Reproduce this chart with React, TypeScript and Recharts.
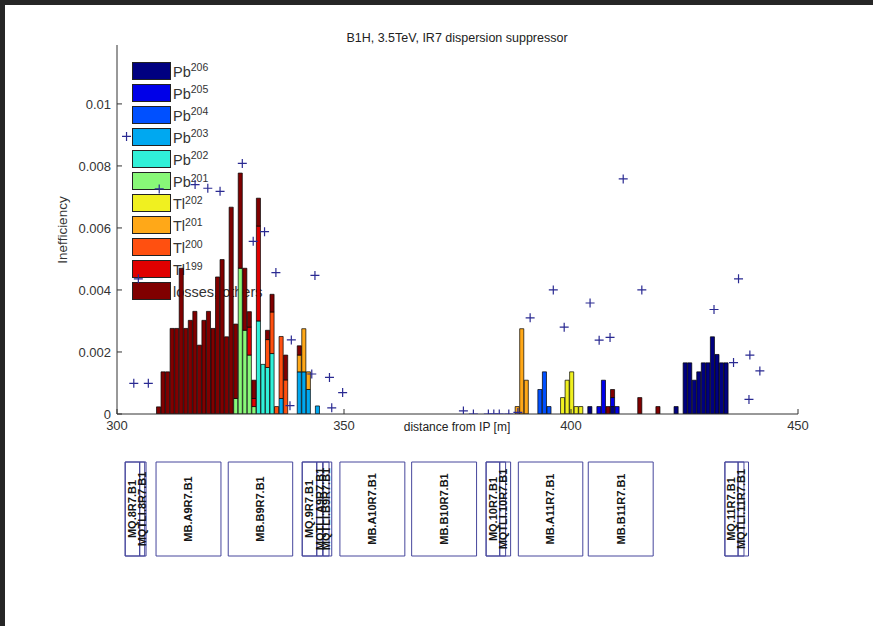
import React from 'react';
import { ComposedChart, Bar, Scatter, XAxis, YAxis, ReferenceArea } from 'recharts';

const FONT = "'Liberation Sans', Arial, Helvetica, sans-serif";

type Pair = [number, number];

// Loss components per 1 m bin: [bin centre in m, inefficiency]
const pb206: Pair[] = [[404.2, 0.00024], [409.2, 0.00024], [423.2, 0.00024], [425.2, 0.00165], [426.2, 0.00165], [427.2, 0.00109], [428.2, 0.00136], [429.2, 0.00165], [430.2, 0.00165], [431.2, 0.00249], [432.2, 0.00192], [433.2, 0.00165], [434.2, 0.00165]];
const pb205: Pair[] = [[406.2, 0.00024], [407.2, 0.00109], [409.2, 0.00029], [410.2, 0.00024]];
const pb204: Pair[] = [[393.2, 0.00079], [394.2, 0.00136], [395.2, 0.00024]];
const pb203: Pair[] = [[336.2, 0.0005], [340.2, 0.00136], [341.2, 0.00136], [342.2, 0.00079], [344.2, 0.00026]];
const pb202: Pair[] = [[331.2, 0.003], [332.2, 0.0016], [333.2, 0.0015], [334.2, 0.00195]];
const pb201: Pair[] = [[326.2, 0.0005], [327.2, 0.0047], [328.2, 0.0027], [329.2, 0.0019], [330.2, 0.00024]];
const tl202: Pair[] = [[398.2, 0.00053], [399.2, 0.00109], [400.2, 0.00136], [401.2, 0.00024], [402.2, 0.00024]];
const tl201: Pair[] = [[340.2, 0.00054], [341.2, 0.00139], [342.2, 0.00057], [388.2, 0.00024], [389.2, 0.00275], [390.2, 0.00109]];
const tl200: Pair[] = [[333.2, 0.0009], [334.2, 0.00134], [335.2, 0.00024], [336.2, 0.002], [337.2, 0.0011]];
const tl199: Pair[] = [[329.2, 0.0009], [330.2, 0.00026], [331.2, 0.00306]];
const others: Pair[] = [
  [309.2, 0.00023], [310.2, 0.00136], [311.2, 0.00136], [312.2, 0.00276], [313.2, 0.00276],
  [314.2, 0.0047], [315.2, 0.00276], [316.2, 0.00302], [317.2, 0.00331], [318.2, 0.00222],
  [319.2, 0.00302], [320.2, 0.00331], [321.2, 0.00276], [322.2, 0.00442], [323.2, 0.00498],
  [324.2, 0.00249], [325.2, 0.00667], [326.2, 0.0024], [327.2, 0.00307], [328.2, 0.002],
  [329.2, 0.0005], [330.2, 0.00059], [331.2, 0.0009], [333.2, 0.0003], [334.2, 0.00057],
  [337.2, 0.0008], [340.2, 0.0003], [408.2, 0.00024], [409.2, 0.00026], [415.2, 0.00053],
  [419.2, 0.00024],
];

// Simulated total inefficiency per element (markers)
const markerPos = [302.1, 303.7, 306.9, 304.7, 309.3, 317.2, 320.0, 322.7, 327.6, 330.0, 332.5, 335.0, 338.4, 338.1, 343.6, 342.9, 346.8, 349.7, 347.3, 376.3, 378.5, 381.8, 383.0, 384.2, 386.3, 388.3, 391.0, 396.1, 398.5, 404.2, 406.2, 408.6, 411.5, 415.6, 431.5, 436.9, 435.8, 439.4, 441.6, 439.2];
const markerVal = [0.00895, 0.00099, 0.00099, 0.00436, 0.00726, 0.0074, 0.00728, 0.00718, 0.00808, 0.00557, 0.00588, 0.00456, 0.00239, 0.00027, 0.00447, 0.00129, 0.00118, 0.00069, 0.0002, 0.0001, 0, 0, 0, 0, 0, 0.00005, 0.0031, 0.004, 0.0028, 0.00358, 0.00238, 0.00247, 0.00758, 0.004, 0.00337, 0.00436, 0.00166, 0.0019, 0.00139, 0.00047];

const xTicks = [300, 350, 400, 450];
const yTicks = [0, 0.002, 0.004, 0.006, 0.008, 0.01];
const xDomain: [number, number] = [300, 450];
const yDomain: [number, number] = [0, 0.0119];

// Machine layout
const cryoStart = [301.8, 340.8, 381.3, 433.9];
const cryoEnd = [306.4, 347.3, 386.7, 439.1];
const elementNames = ['MQ.8R7.B1', 'MQTLI.8R7.B1', 'MB.A9R7.B1', 'MB.B9R7.B1', 'MQ.9R7.B1', 'MQTLI.A9R7.B1', 'MQTLI.B9R7.B1', 'MB.A10R7.B1', 'MB.B10R7.B1', 'MQ.10R7.B1', 'MQTLI.10R7.B1', 'MB.A11R7.B1', 'MB.B11R7.B1', 'MQ.11R7.B1', 'MQTLI.11R7.B1'];
const elementStart = [301.8, 305.0, 308.6, 324.5, 340.8, 344.0, 345.4, 349.1, 364.9, 381.3, 384.3, 388.4, 403.8, 433.9, 436.8];
const elementEnd = [305.0, 306.1, 322.9, 338.7, 344.0, 345.3, 346.7, 363.4, 379.2, 384.3, 385.6, 402.6, 418.1, 436.8, 438.1];

const stackSeries = [
  { key: 'pb206', base: 'Pb', sup: '206', color: '#000080', values: pb206 },
  { key: 'pb205', base: 'Pb', sup: '205', color: '#0000e8', values: pb205 },
  { key: 'pb204', base: 'Pb', sup: '204', color: '#0050ff', values: pb204 },
  { key: 'pb203', base: 'Pb', sup: '203', color: '#00a8f0', values: pb203 },
  { key: 'pb202', base: 'Pb', sup: '202', color: '#30f0d8', values: pb202 },
  { key: 'pb201', base: 'Pb', sup: '201', color: '#88f878', values: pb201 },
  { key: 'tl202', base: 'Tl', sup: '202', color: '#f0f020', values: tl202 },
  { key: 'tl201', base: 'Tl', sup: '201', color: '#ffa818', values: tl201 },
  { key: 'tl200', base: 'Tl', sup: '200', color: '#ff5010', values: tl200 },
  { key: 'tl199', base: 'Tl', sup: '199', color: '#e00000', values: tl199 },
  { key: 'others', base: 'losses, others', sup: '', color: '#800000', values: others },
];

const binPositions = Array.from(
  new Set(stackSeries.flatMap((s) => s.values.map((v) => v[0])))
).sort((a, b) => a - b);

const barTable = binPositions.map((pos) => {
  const row: Record<string, number> = { pos };
  stackSeries.forEach((s) => {
    const hit = s.values.find((v) => v[0] === pos);
    row[s.key] = hit ? hit[1] : 0;
  });
  return row;
});

const markerTable = markerPos.map((pos, i) => ({ pos, value: markerVal[i] }));

const W = 873;
const PLOT_LEFT = 117;
const PLOT_RIGHT = 798;
const BAR_PX = (PLOT_RIGHT - PLOT_LEFT) / (xDomain[1] - xDomain[0]);

const PlusMarker = (props: any) => {
  const { cx, cy } = props;
  if (cx == null || cy == null) return null;
  const r = 4.5;
  return (
    <path
      d={`M${cx - r},${cy}H${cx + r}M${cx},${cy - r}V${cy + r}`}
      stroke="#2a2a92"
      strokeWidth={1.2}
      fill="none"
    />
  );
};

const axisColor = '#333';
const tickStyle = { fill: '#333', fontSize: 13, fontFamily: FONT };

export default function App() {
  return (
    <div style={{ position: 'absolute', left: 0, top: 0, width: W, height: 626, background: '#262626', overflow: 'hidden', fontFamily: FONT }}>
      <div style={{ position: 'absolute', left: 5, top: 5, right: 0, bottom: 0, background: '#ffffff' }} />

      {/* legend sits beneath the plotted bars */}
      {stackSeries.map((s, i) => {
        const top = 61.7 + i * 22.06;
        return (
          <React.Fragment key={s.key}>
            <div style={{ position: 'absolute', left: 132, top, width: 37, height: 16, background: s.color, border: '1px solid #222' }} />
            <div style={{ position: 'absolute', left: 173, top: top + 2, height: 17, lineHeight: '17px', fontSize: 14.5, color: '#333', whiteSpace: 'nowrap' }}>
              {s.base}
              {s.sup && <span style={{ position: 'relative', top: -5.5, fontSize: 10.5 }}>{s.sup}</span>}
            </div>
          </React.Fragment>
        );
      })}

      <div style={{ position: 'absolute', left: 0, top: 0 }}>
        <ComposedChart
          width={W}
          height={440}
          data={barTable}
          margin={{ top: 45, right: W - PLOT_RIGHT, bottom: 6, left: PLOT_LEFT - 60 }}
        >
          <XAxis
            dataKey="pos"
            type="number"
            domain={xDomain}
            ticks={xTicks}
            allowDataOverflow
            height={20}
            tickSize={-5}
            tickMargin={12}
            tick={tickStyle}
            stroke={axisColor}
          />
          <XAxis
            xAxisId="top"
            dataKey="pos"
            orientation="top"
            type="number"
            domain={xDomain}
            ticks={xTicks}
            allowDataOverflow
            height={0}
            tickSize={-5}
            tick={false}
            stroke={axisColor}
          />
          <YAxis
            type="number"
            domain={yDomain}
            ticks={yTicks}
            allowDataOverflow
            width={60}
            tickSize={-5}
            tickMargin={11}
            tick={tickStyle}
            tickFormatter={(v: number) => String(v)}
            stroke={axisColor}
          />
          <YAxis
            yAxisId="right"
            orientation="right"
            type="number"
            domain={yDomain}
            ticks={yTicks}
            allowDataOverflow
            width={0}
            tickSize={-5}
            tick={false}
            stroke={axisColor}
          />
          {stackSeries.map((s) => (
            <Bar
              key={s.key}
              dataKey={s.key}
              stackId="loss"
              fill={s.color}
              stroke="#000"
              strokeWidth={0.7}
              barSize={BAR_PX}
              isAnimationActive={false}
            />
          ))}
          <Scatter
            xAxisId="top"
            data={markerTable}
            dataKey="value"
            shape={PlusMarker}
            isAnimationActive={false}
          />
        </ComposedChart>
      </div>

      <div style={{ position: 'absolute', left: 0, top: 440 }}>
        <ComposedChart
          width={W}
          height={140}
          data={markerTable}
          margin={{ top: 22, right: W - PLOT_RIGHT, bottom: 24, left: PLOT_LEFT }}
        >
          <XAxis dataKey="pos" type="number" domain={xDomain} allowDataOverflow hide height={0} />
          <YAxis type="number" domain={[0, 1]} allowDataOverflow hide width={0} />
          {cryoStart.map((x1, i) => (
            <ReferenceArea
              key={`cryo-${i}`}
              x1={x1}
              x2={cryoEnd[i]}
              y1={0}
              y2={1}
              fill="none"
              stroke="#46469c"
              strokeWidth={1}
              ifOverflow="visible"
            />
          ))}
          {elementNames.map((name, i) => (
            <ReferenceArea
              key={name}
              x1={elementStart[i]}
              x2={elementEnd[i]}
              y1={0}
              y2={1}
              fill="none"
              stroke="#46469c"
              strokeWidth={1}
              ifOverflow="visible"
              label={{
                value: name,
                angle: -90,
                position: 'center',
                fill: '#151515',
                fontSize: 11,
                fontWeight: 'bold',
                fontFamily: FONT,
              }}
            />
          ))}
        </ComposedChart>
      </div>

      <div style={{ position: 'absolute', left: 457, top: 38, transform: 'translate(-50%, -50%)', fontSize: 12.5, color: '#222', whiteSpace: 'nowrap' }}>
        B1H, 3.5TeV, IR7 dispersion suppressor
      </div>
      <div style={{ position: 'absolute', left: 62, top: 230, transform: 'translate(-50%, -50%) rotate(-90deg)', fontSize: 13.5, color: '#333', whiteSpace: 'nowrap' }}>
        Inefficiency
      </div>
      <div style={{ position: 'absolute', left: 457, top: 427, transform: 'translate(-50%, -50%)', fontSize: 12, color: '#222', whiteSpace: 'nowrap' }}>
        distance from IP [m]
      </div>
    </div>
  );
}
